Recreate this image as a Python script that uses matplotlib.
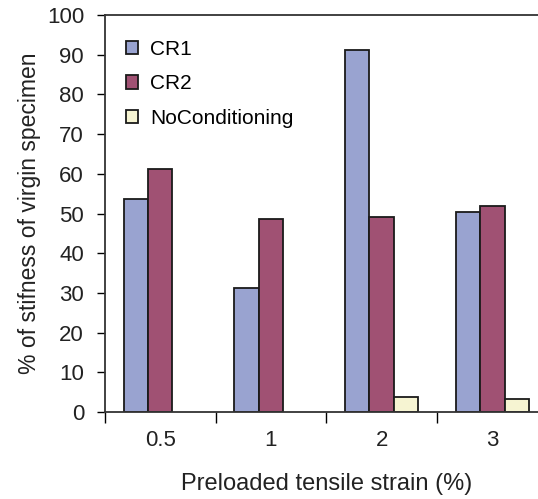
import matplotlib.pyplot as plt
from matplotlib.patches import Patch
import numpy as np

plt.rcParams['font.family'] = 'Liberation Sans'

strain = ['0.5', '1', '2', '3']
cr1 = [53.7, 31.3, 91.2, 50.5]
cr2 = [61.2, 48.6, 49.1, 52.0]
no_cond = [0, 0, 3.9, 3.4]

colors = ['#99a3d0', '#a05173', '#f6f4d2']
edge = '#1a1a1a'

fig = plt.figure(figsize=(5.38, 4.99), dpi=100)
ax = fig.add_axes([0.195, 0.1743, 0.823, 0.7956])

x = np.arange(len(strain))
w = 0.22
ax.bar(x - w, cr1, w, color=colors[0], edgecolor=edge, lw=1.3)
ax.bar(x, cr2, w, color=colors[1], edgecolor=edge, lw=1.3)
# no bar drawn where there is no value
nz = [i for i, v in enumerate(no_cond) if v > 0]
ax.bar(x[nz] + w, [no_cond[i] for i in nz], w, color=colors[2], edgecolor=edge, lw=1.3)

ax.set_xlim(-0.5, 3.5)
ax.set_ylim(0, 100)
ax.set_yticks(range(0, 101, 10))
ax.set_xticks(x)
ax.set_xticklabels(strain)
ax.set_xticks(np.arange(-0.5, 3.6, 1), minor=True)
ax.tick_params(axis='x', which='major', length=0, pad=13, labelsize=16, labelcolor='#222222')
ax.tick_params(axis='x', which='minor', length=8, width=1, direction='out')
ax.tick_params(axis='y', length=6, width=1, labelsize=16, pad=9, labelcolor='#222222')
for s in ['left', 'bottom', 'top']:
    ax.spines[s].set_color('#333333')
    ax.spines[s].set_linewidth(1.3)
ax.spines['right'].set_visible(False)

ax.set_xlabel('Preloaded tensile strain (%)', fontsize=17, labelpad=16, color='#222222')
ax.set_ylabel('% of stifness of virgin specimen', fontsize=16.5, labelpad=4, color='#222222')

handles = [Patch(facecolor=c, edgecolor=edge, lw=1.3) for c in colors]
ax.legend(handles, ['CR1', 'CR2', 'NoConditioning'], loc='upper left',
          bbox_to_anchor=(0.005, 0.985), frameon=False, fontsize=15,
          handlelength=0.6, handleheight=0.6, handletextpad=0.55, labelspacing=0.75)

fig.savefig('out.png', dpi=100)
